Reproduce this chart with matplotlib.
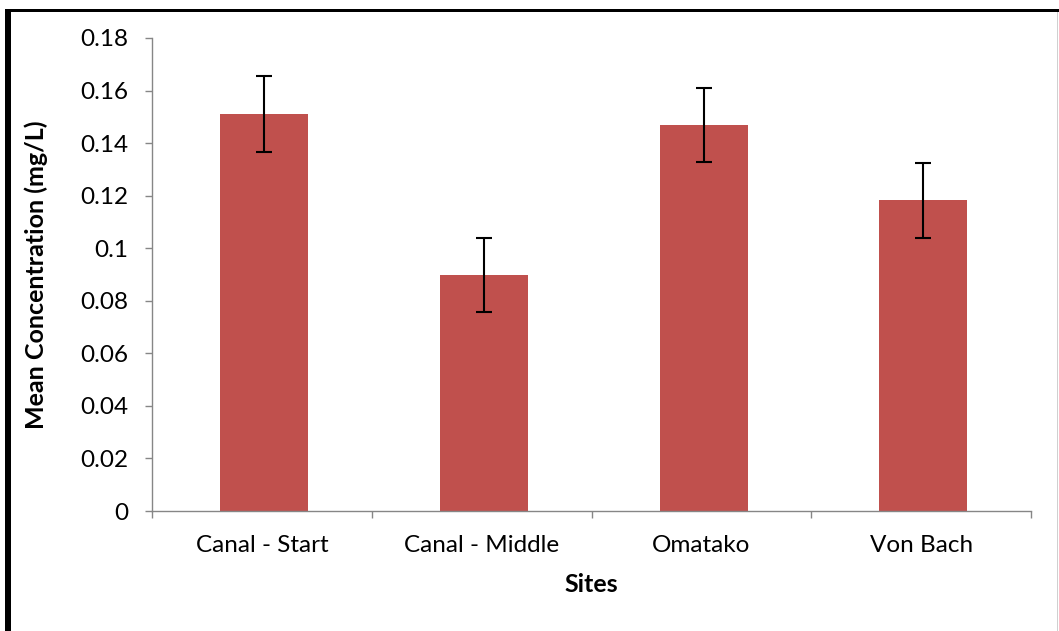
import matplotlib
matplotlib.use("Agg")
import matplotlib.pyplot as plt
from matplotlib.patches import Rectangle

# data
sites = ["Canal - Start", "Canal - Middle", "Omatako", "Von Bach"]
mean_conc = [0.151, 0.0898, 0.147, 0.1183]
std_err = [0.0145, 0.0141, 0.0141, 0.0143]
y_ticks = [0, 0.02, 0.04, 0.06, 0.08, 0.1, 0.12, 0.14, 0.16, 0.18]
y_tick_labels = ["0", "0.02", "0.04", "0.06", "0.08", "0.1", "0.12",
                 "0.14", "0.16", "0.18"]

W, H = 1059, 631
BAR = "#C0504D"
AXIS = "#868686"

plt.rcParams["font.family"] = ["Lato", "DejaVu Sans"]

fig = plt.figure(figsize=(W / 100, H / 100), dpi=100)
ax = fig.add_axes([152 / W, 1 - 511 / H, (1031 - 152) / W, (511 - 38) / H])

x = list(range(len(sites)))
ax.bar([i + 0.01 for i in x], mean_conc, width=0.4, color=BAR, zorder=2)
ax.errorbar([i + 0.01 for i in x], mean_conc, yerr=std_err, fmt="none",
            ecolor="black", elinewidth=1.5, capsize=6, capthick=1.5, zorder=3)

ax.set_xlim(-0.5, len(sites) - 0.5)
ax.set_ylim(0, 0.18)
ax.set_yticks(y_ticks)
ax.set_yticklabels(y_tick_labels)

# category labels centred, ticks on boundaries
ax.set_xticks(x)
ax.set_xticklabels(sites)
ax.tick_params(axis="x", which="major", length=0, pad=17.5)
ax.set_xticks([i - 0.5 for i in range(len(sites) + 1)], minor=True)
ax.tick_params(axis="x", which="minor", length=5, width=1, color=AXIS,
               direction="out")
ax.tick_params(axis="y", length=5, width=1, color=AXIS, direction="out",
               pad=12)
ax.tick_params(labelsize=17.5, labelcolor="black")

for side in ("top", "right"):
    ax.spines[side].set_visible(False)
for side in ("left", "bottom"):
    ax.spines[side].set_color(AXIS)
    ax.spines[side].set_linewidth(1)

ax.set_ylabel("Mean Concentration (mg/L)", fontsize=18, weight="bold",
              labelpad=23)
ax.set_xlabel("Sites", fontsize=18, weight="bold", labelpad=12)

# outer frame: thick left and top edges, faint right edge
def px_rect(x0, y0, x1, y1, color):
    fig.patches.append(Rectangle((x0 / W, 1 - y1 / H), (x1 - x0) / W,
                                 (y1 - y0) / H, transform=fig.transFigure,
                                 facecolor=color, edgecolor="none"))

px_rect(5, 9, 11, H, "black")
px_rect(5, 9, W, 12, "black")
px_rect(1057, 12, 1058, H, "#D0D0D0")

fig.savefig("out.png", dpi=100, facecolor="white")
